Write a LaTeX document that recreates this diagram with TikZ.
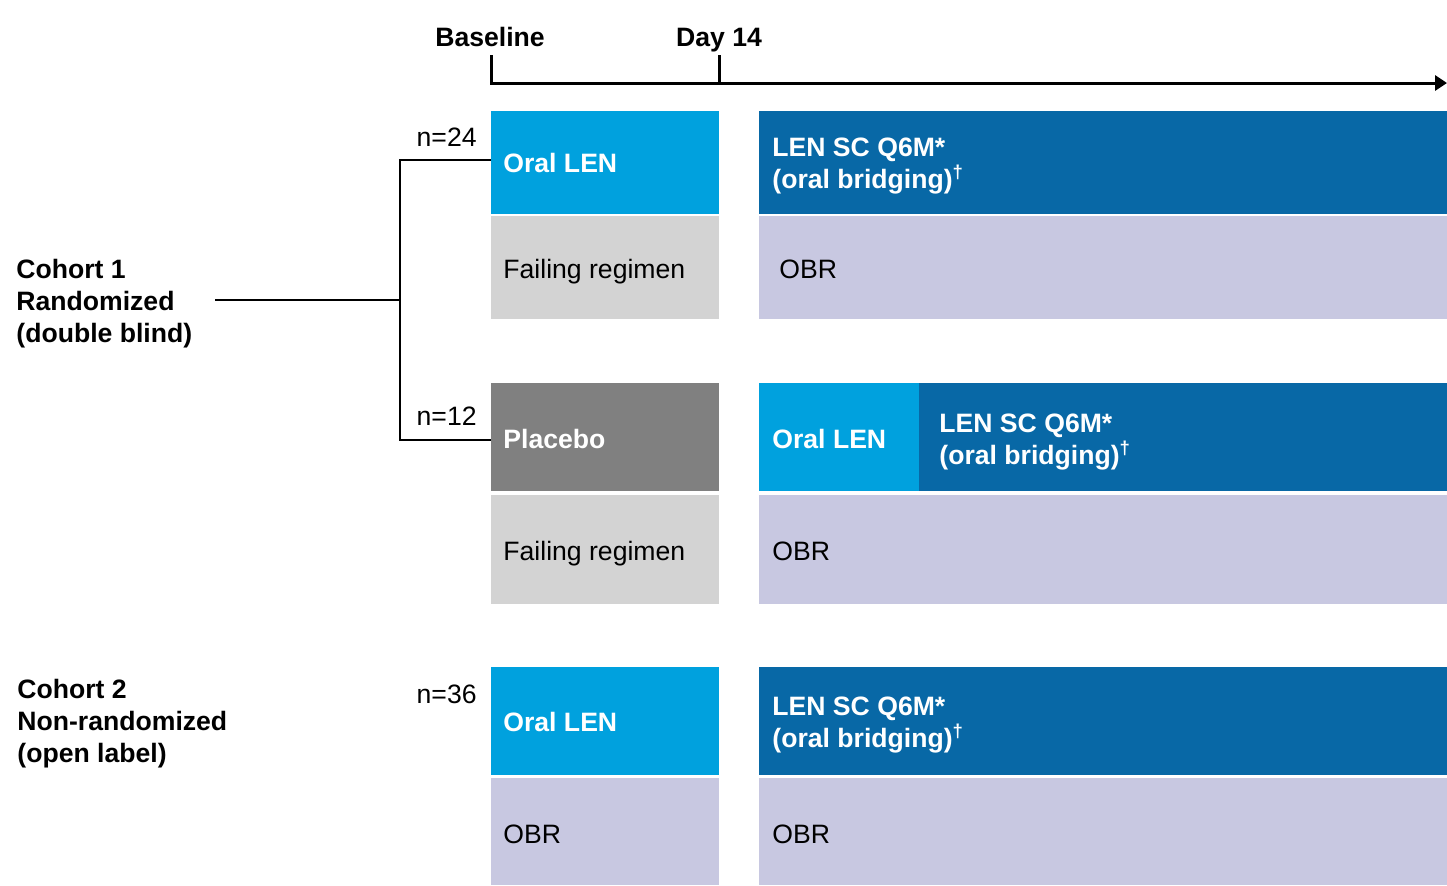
\documentclass[tikz,border=0pt]{standalone}
\usepackage{fontspec}
\setmainfont{Liberation Sans}
\usetikzlibrary{arrows.meta}

\definecolor{lenlight}{RGB}{0,161,222}
\definecolor{lendark}{RGB}{8,104,166}
\definecolor{placebogray}{RGB}{128,128,128}
\definecolor{failgray}{RGB}{211,211,211}
\definecolor{obrlav}{RGB}{200,200,225}

\tikzset{
  armtext/.style={anchor=west, inner sep=0pt, align=left, text=white,
    font=\fontsize{13.3}{16}\selectfont\bfseries},
  basetext/.style={anchor=base west, inner sep=0pt, align=left,
    font=\fontsize{13.3}{16}\selectfont},
  ntext/.style={anchor=east, inner sep=0pt, font=\fontsize{13.3}{15}\selectfont},
  cohorttext/.style={anchor=west, inner sep=0pt, align=left,
    font=\fontsize{13.3}{16}\selectfont\bfseries},
  ticktext/.style={anchor=base, inner sep=0pt, font=\fontsize{13.3}{15}\selectfont\bfseries},
}

\begin{document}
\begin{tikzpicture}[x=0.5pt,y=-0.5pt]
            \useasboundingbox (0,0) rectangle (1447,885);

            % time axis
            \coordinate (T0) at (491,83);
            \coordinate (T14) at (719,83);
            \coordinate (Tend) at (1447,83);
            \draw[line width=1.5pt, -{Triangle[length=6pt,width=7.5pt]}] (491,55)--(T0)--(Tend);
            \draw[line width=1.5pt] (719,55)--(T14);
            \node[ticktext] (base) at (490,46) {Baseline};
            \node[ticktext] (day14) at (719,46) {Day 14};

            % cohort 1, first arm
            \fill[lenlight] (491,111) rectangle (719,214);
            \fill[failgray] (491,216) rectangle (719,319);
            \fill[lendark] (759,111) rectangle (1447,214);
            \fill[obrlav] (759,216) rectangle (1447,319);
            \node[armtext] (oralA) at (503,163) {Oral LEN};
            \node[basetext] (failA) at (503,278) {Failing regimen};
            \node[armtext] (scA) at (772,166) {LEN SC Q6M*\\(oral bridging)\textsuperscript{\textdagger}};
            \node[basetext] (obrA) at (779,278) {OBR};

            % cohort 1, second arm
            \fill[placebogray] (491,383) rectangle (719,491);
            \fill[failgray] (491,495) rectangle (719,604);
            \fill[lenlight] (759,383) rectangle (919,491);
            \fill[lendark] (919,383) rectangle (1447,491);
            \fill[obrlav] (759,495) rectangle (1447,604);
            \node[armtext] (placebo) at (503,439) {Placebo};
            \node[basetext] (failB) at (503,560) {Failing regimen};
            \node[armtext] (oralB) at (772,439) {Oral LEN};
            \node[armtext] (scB) at (939,442) {LEN SC Q6M*\\(oral bridging)\textsuperscript{\textdagger}};
            \node[basetext] (obrB) at (772,560) {OBR};

            % cohort 2
            \fill[lenlight] (491,667) rectangle (719,775);
            \fill[obrlav] (491,778) rectangle (719,885);
            \fill[lendark] (759,667) rectangle (1447,775);
            \fill[obrlav] (759,778) rectangle (1447,885);
            \node[armtext] (oralC) at (503,722) {Oral LEN};
            \node[basetext] (obrC) at (503,843) {OBR};
            \node[armtext] (scC) at (772,725) {LEN SC Q6M*\\(oral bridging)\textsuperscript{\textdagger}};
            \node[basetext] (obrD) at (772,843) {OBR};

            % randomization bracket
            \coordinate (R) at (215,300);
            \coordinate (S) at (400,300);
            \coordinate (SA) at (400,160);
            \coordinate (SB) at (400,440);
            \coordinate (EA) at (491,160);
            \coordinate (EB) at (491,440);
            \draw[line width=1pt] (R)--(S);
            \draw[line width=1pt] (EA)--(SA)--(SB)--(EB);

            \node[ntext] (nA) at (477,137) {n=24};
            \node[ntext] (nB) at (477,416) {n=12};
            \node[ntext] (nC) at (477,694) {n=36};

            \node[cohorttext] (coh1) at (16,304) {Cohort 1\\Randomized\\(double blind)};
            \node[cohorttext] (coh2) at (17,724) {Cohort 2\\Non-randomized\\(open label)};
\end{tikzpicture}
\end{document}
